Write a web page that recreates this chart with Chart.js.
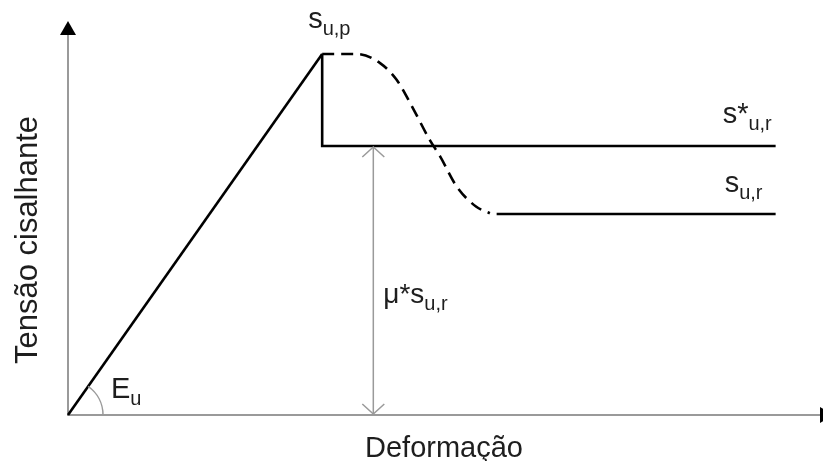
<!DOCTYPE html>
<html>
<head>
<meta charset="utf-8">
<script src="https://cdn.jsdelivr.net/npm/chart.js@4/dist/chart.umd.min.js"></script>
<style>
  html, body { margin: 0; background: #fff; }
</style>
</head>
<body>
<canvas id="curve" width="823" height="461"></canvas>
<script>
// shear stress vs. strain, schematic units (0..10 on both axes)
const elasticX = [0, 3.38];
const elasticY = [0, 9.50];
const dropX = [3.38, 3.38, 9.41];
const dropY = [9.50, 7.08, 7.08];
const softeningX = [3.38, 3.84, 4.15, 4.37, 4.55, 4.81, 4.95, 5.17, 5.43, 5.61];
const softeningY = [9.50, 9.50, 9.26, 8.82, 8.21, 7.24, 6.80, 6.01, 5.48, 5.31];
const residualX = [5.70, 9.41];
const residualY = [5.29, 5.29];
const dimensionX = [4.06, 4.06];
const dimensionY = [0, 7.08];

const FONT = '"Liberation Sans", Arial, sans-serif';
const TEXT = '#1e1e1e';

const toPoints = (xs, ys) => xs.map((x, i) => ({ x: x, y: ys[i] }));

// main symbol plus a lowered, smaller subscript
function subText(ctx, x, y, main, sub, size) {
  ctx.font = size + 'px ' + FONT;
  ctx.textAlign = 'left';
  ctx.textBaseline = 'alphabetic';
  ctx.fillText(main, x, y);
  const w = ctx.measureText(main).width;
  ctx.font = Math.round(size * 0.7) + 'px ' + FONT;
  ctx.fillText(sub, x + w, y + 7);
}

function openHead(ctx, x, y, dir) {
  ctx.beginPath();
  ctx.moveTo(x - 11, y + dir * 10);
  ctx.lineTo(x, y);
  ctx.lineTo(x + 11, y + dir * 10);
  ctx.stroke();
}

const sketch = {
  id: 'sketch',
  beforeDatasetsDraw(chart) {
    const { ctx, chartArea: a } = chart;
    ctx.save();
    // axes
    ctx.strokeStyle = '#9a9a9a';
    ctx.lineWidth = 2;
    ctx.beginPath();
    ctx.moveTo(a.left, a.top);
    ctx.lineTo(a.left, a.bottom);
    ctx.lineTo(a.right, a.bottom);
    ctx.stroke();
    ctx.fillStyle = '#000';
    ctx.beginPath();
    ctx.moveTo(a.left, a.top - 14);
    ctx.lineTo(a.left - 8, a.top);
    ctx.lineTo(a.left + 8, a.top);
    ctx.closePath();
    ctx.fill();
    ctx.beginPath();
    ctx.moveTo(a.right + 14, a.bottom);
    ctx.lineTo(a.right, a.bottom - 8);
    ctx.lineTo(a.right, a.bottom + 8);
    ctx.closePath();
    ctx.fill();

    // axis titles
    ctx.fillStyle = TEXT;
    ctx.font = '29px ' + FONT;
    ctx.textAlign = 'center';
    ctx.textBaseline = 'alphabetic';
    ctx.fillText('Deformação', (a.left + a.right) / 2, 457);
    ctx.font = '31px ' + FONT;
    ctx.translate(37, 240);
    ctx.rotate(-Math.PI / 2);
    ctx.fillText('Tensão cisalhante', 0, 0);
    ctx.restore();
  },
  afterDatasetsDraw(chart) {
    const { ctx, scales: { x, y } } = chart;
    const x0 = x.getPixelForValue(0), y0 = y.getPixelForValue(0);
    const px = x.getPixelForValue(elasticX[1]), py = y.getPixelForValue(elasticY[1]);
    ctx.save();

    // stiffness angle
    ctx.strokeStyle = '#9a9a9a';
    ctx.lineWidth = 1.5;
    ctx.beginPath();
    ctx.arc(x0, y0, 35, Math.atan2(py - y0, px - x0), 0);
    ctx.stroke();

    // dimension arrow heads
    const dx = x.getPixelForValue(dimensionX[0]);
    openHead(ctx, dx, y.getPixelForValue(dimensionY[1]) + 1, 1);
    openHead(ctx, dx, y.getPixelForValue(dimensionY[0]) - 1, -1);

    // labels
    ctx.fillStyle = TEXT;
    const endX = x.getPixelForValue(dropX[2]);
    subText(ctx, px - 14, py - 26, 's', 'u,p', 29);
    subText(ctx, endX - 53, y.getPixelForValue(dropY[2]) - 23, 's*', 'u,r', 29);
    subText(ctx, endX - 51, y.getPixelForValue(residualY[0]) - 22, 's', 'u,r', 29);
    subText(ctx, dx + 10, 303, 'μ*s', 'u,r', 28);
    subText(ctx, x0 + 43, y0 - 17, 'E', 'u', 29);
    ctx.restore();
  }
};

const line = (xs, ys, extra) => Object.assign({
  data: toPoints(xs, ys),
  borderColor: '#000',
  borderWidth: 2.6,
  pointRadius: 0,
  fill: false,
  tension: 0,
  clip: false
}, extra);

new Chart(document.getElementById('curve'), {
  type: 'line',
  data: {
    datasets: [
      line(elasticX, elasticY),
      line(dropX, dropY, { borderJoinStyle: 'miter' }),
      line(softeningX, softeningY, { borderDash: [12, 7], cubicInterpolationMode: 'monotone' }),
      line(residualX, residualY),
      line(dimensionX, dimensionY, { borderColor: '#9a9a9a', borderWidth: 1.5 })
    ]
  },
  options: {
    responsive: false,
    devicePixelRatio: 1,
    animation: false,
    layout: { padding: { left: 68, right: 3, top: 35, bottom: 46 } },
    scales: {
      x: { type: 'linear', min: 0, max: 10, display: false },
      y: { type: 'linear', min: 0, max: 10, display: false }
    },
    plugins: {
      legend: { display: false },
      tooltip: { enabled: false }
    }
  },
  plugins: [sketch]
});
</script>
</body>
</html>
